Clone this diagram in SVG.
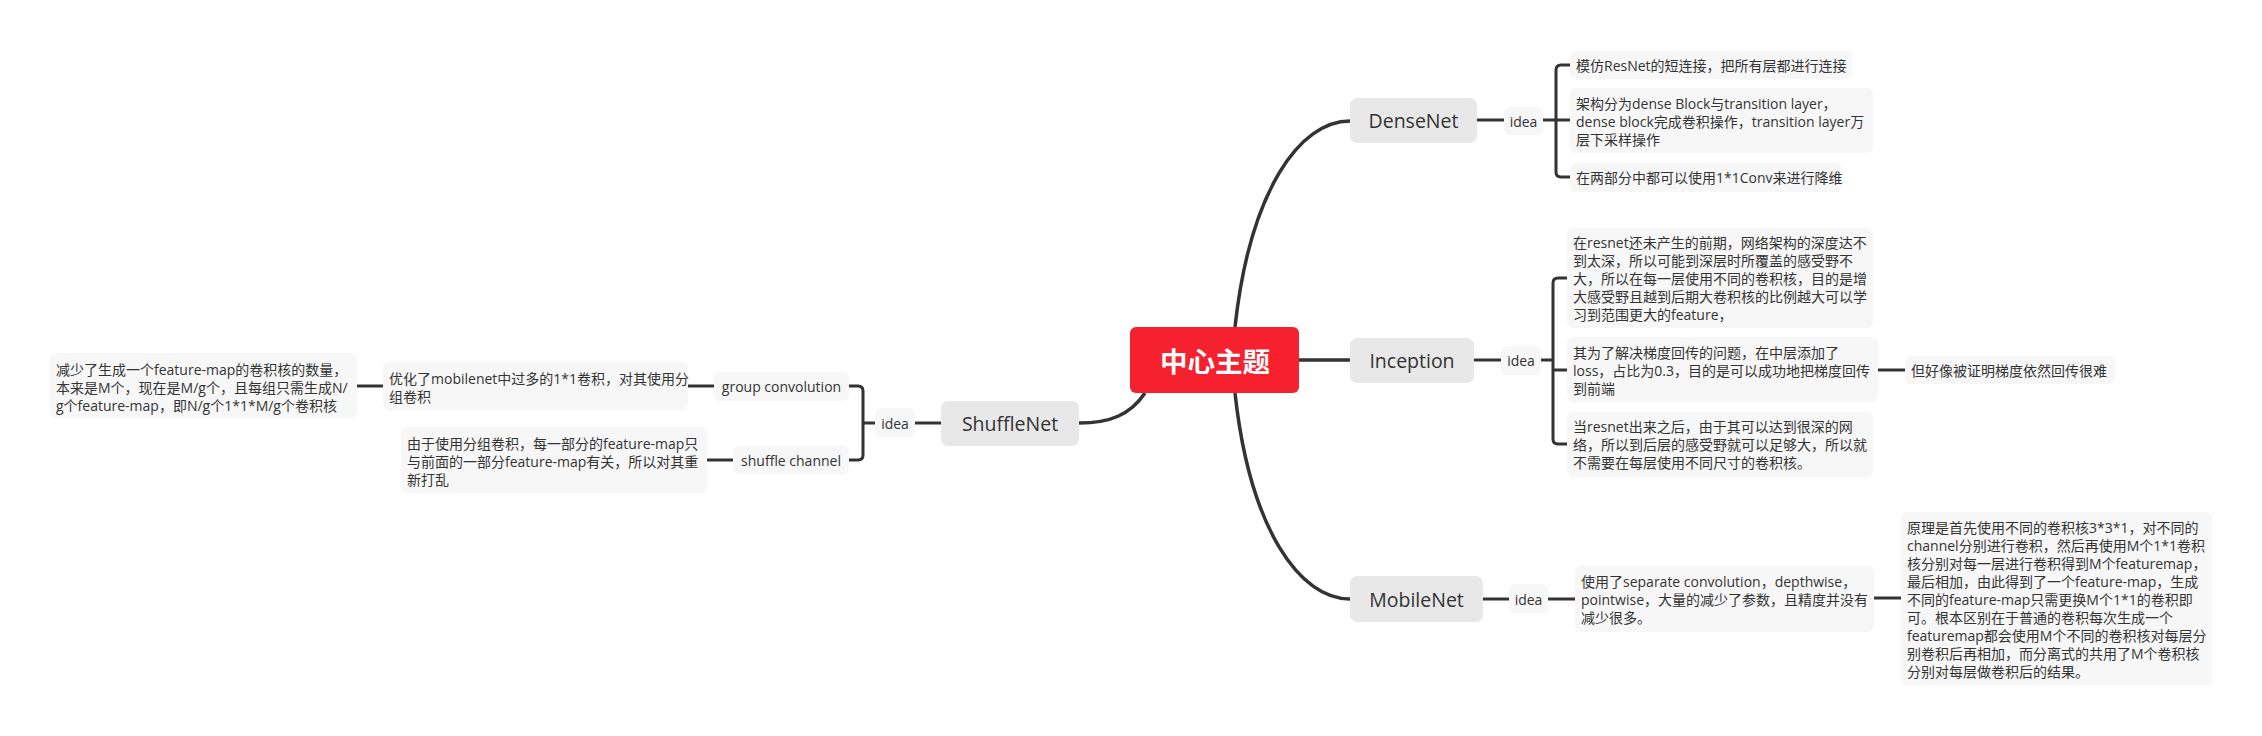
<svg xmlns="http://www.w3.org/2000/svg" width="2262" height="736" viewBox="0 0 2262 736">
<style>
text{font-family:"Open Sans","Noto Sans CJK SC",sans-serif;fill:#333;dominant-baseline:central}
.main rect{fill:#E8E8E8}
.main text{font-size:19.5px;text-anchor:middle}
.sub rect{fill:#F7F7F7}
.sub text{font-size:14px}
.c{text-anchor:middle}
#connectors path{fill:none;stroke:#333;stroke-width:3;stroke-linecap:butt}
#connectors .thick{stroke-width:3.5}
</style>
<rect width="2262" height="736" fill="#fff"/>
<g id="connectors">
<path class="thick" d="M1235 327 C1250 190 1300 121 1350 121"/>
<path class="thick" d="M1299 360 H1350"/>
<path class="thick" d="M1235 393 C1250 530 1300 599 1350 599"/>
<path class="thick" d="M1145 393 C1130 415 1110 423 1079 423"/>
<path d="M1477 120 H1504"/>
<path d="M1543 120 H1570"/>
<path d="M1570 65 H1561 Q1556 65 1556 70 V172 Q1556 177 1561 177 H1570"/>
<path d="M1474 360 H1501"/>
<path d="M1541 360 H1553"/>
<path d="M1567 278 H1558 Q1553 278 1553 283 V439 Q1553 444 1558 444 H1567"/>
<path d="M1553 370 H1567"/>
<path d="M1878 370 H1905"/>
<path d="M1483 599 H1509"/>
<path d="M1548 599 H1575"/>
<path d="M1874 598 H1901"/>
<path d="M941 423 H915"/>
<path d="M875 423 H863"/>
<path d="M849 386 H858 Q863 386 863 391 V455 Q863 460 858 460 H849"/>
<path d="M714 386 H688"/>
<path d="M733 460 H707"/>
<path d="M383 386 H357"/>
</g>
<g id="center">
<rect x="1130" y="327" width="169" height="66" rx="6" fill="#F5212F"/>
<text x="1215" y="360" text-anchor="middle" style="font-size:27.5px;font-weight:bold;fill:#fff;font-family:'Noto Sans CJK SC',sans-serif">中心主题</text>
</g>
<g id="densenet" class="main">
<rect x="1350" y="98" width="127" height="45" rx="7"/>
<text x="1413.5" y="120.5">DenseNet</text>
</g>
<g id="densenet-idea" class="sub">
<rect x="1504" y="107" width="39" height="28" rx="6"/>
<text class="c" x="1523.5" y="121">idea</text>
</g>
<g id="dn-leaf1" class="sub">
<rect x="1570" y="51" width="282" height="28" rx="6"/>
<text x="1576" y="65">模仿ResNet的短连接，把所有层都进行连接</text>
</g>
<g id="dn-leaf2" class="sub">
<rect x="1570" y="88" width="303" height="65" rx="6"/>
<text x="1576" y="103">架构分为dense Block与transition layer，</text>
<text x="1576" y="121">dense block完成卷积操作，transition layer万</text>
<text x="1576" y="139">层下采样操作</text>
</g>
<g id="dn-leaf3" class="sub">
<rect x="1570" y="163" width="272" height="29" rx="6"/>
<text x="1576" y="177">在两部分中都可以使用1*1Conv来进行降维</text>
</g>
<g id="inception" class="main">
<rect x="1350" y="338" width="124" height="45" rx="7"/>
<text x="1412" y="360.5">Inception</text>
</g>
<g id="inception-idea" class="sub">
<rect x="1501" y="346" width="40" height="29" rx="6"/>
<text class="c" x="1521" y="360.5">idea</text>
</g>
<g id="in-leaf1" class="sub">
<rect x="1567" y="228" width="306" height="100" rx="6"/>
<text x="1573" y="242">在resnet还未产生的前期，网络架构的深度达不</text>
<text x="1573" y="260">到太深，所以可能到深层时所覆盖的感受野不</text>
<text x="1573" y="278">大，所以在每一层使用不同的卷积核，目的是增</text>
<text x="1573" y="296">大感受野且越到后期大卷积核的比例越大可以学</text>
<text x="1573" y="314">习到范围更大的feature，</text>
</g>
<g id="in-leaf2" class="sub">
<rect x="1567" y="337" width="311" height="65" rx="6"/>
<text x="1573" y="352">其为了解决梯度回传的问题，在中层添加了</text>
<text x="1573" y="370">loss，占比为0.3，目的是可以成功地把梯度回传</text>
<text x="1573" y="388">到前端</text>
</g>
<g id="in-leaf3" class="sub">
<rect x="1567" y="412" width="306" height="65" rx="6"/>
<text x="1573" y="426">当resnet出来之后，由于其可以达到很深的网</text>
<text x="1573" y="444">络，所以到后层的感受野就可以足够大，所以就</text>
<text x="1573" y="462">不需要在每层使用不同尺寸的卷积核。</text>
</g>
<g id="in-leaf2-child" class="sub">
<rect x="1905" y="356" width="210" height="28" rx="6"/>
<text x="1911" y="370">但好像被证明梯度依然回传很难</text>
</g>
<g id="mobilenet" class="main">
<rect x="1350" y="576" width="133" height="46" rx="7"/>
<text x="1416.5" y="599">MobileNet</text>
</g>
<g id="mobilenet-idea" class="sub">
<rect x="1509" y="584" width="39" height="29" rx="6"/>
<text class="c" x="1528.5" y="599">idea</text>
</g>
<g id="mb-leaf" class="sub">
<rect x="1575" y="566" width="299" height="66" rx="6"/>
<text x="1581" y="581">使用了separate convolution，depthwise，</text>
<text x="1581" y="599">pointwise，大量的减少了参数，且精度并没有</text>
<text x="1581" y="617">减少很多。</text>
</g>
<g id="mb-leaf-child" class="sub">
<rect x="1901" y="512" width="311" height="173" rx="6"/>
<text x="1907" y="527">原理是首先使用不同的卷积核3*3*1，对不同的</text>
<text x="1907" y="545">channel分别进行卷积，然后再使用M个1*1卷积</text>
<text x="1907" y="563">核分别对每一层进行卷积得到M个featuremap，</text>
<text x="1907" y="581">最后相加，由此得到了一个feature-map，生成</text>
<text x="1907" y="599">不同的feature-map只需更换M个1*1的卷积即</text>
<text x="1907" y="617">可。根本区别在于普通的卷积每次生成一个</text>
<text x="1907" y="635">featuremap都会使用M个不同的卷积核对每层分</text>
<text x="1907" y="653">别卷积后再相加，而分离式的共用了M个卷积核</text>
<text x="1907" y="671">分别对每层做卷积后的结果。</text>
</g>
<g id="shufflenet" class="main">
<rect x="941" y="401" width="138" height="45" rx="7"/>
<text x="1010" y="423.5">ShuffleNet</text>
</g>
<g id="shufflenet-idea" class="sub">
<rect x="875" y="408" width="40" height="29" rx="6"/>
<text class="c" x="895" y="423">idea</text>
</g>
<g id="group-conv" class="sub">
<rect x="714" y="372" width="135" height="29" rx="6"/>
<text class="c" x="781.5" y="386">group convolution</text>
</g>
<g id="shuffle-channel" class="sub">
<rect x="733" y="446" width="116" height="28" rx="6"/>
<text class="c" x="791" y="460">shuffle channel</text>
</g>
<g id="gc-leaf" class="sub">
<rect x="383" y="362" width="305" height="48" rx="6"/>
<text x="389" y="378">优化了mobilenet中过多的1*1卷积，对其使用分</text>
<text x="389" y="396">组卷积</text>
</g>
<g id="gc-leaf-child" class="sub">
<rect x="50" y="353" width="307" height="65" rx="6"/>
<text x="56" y="369">减少了生成一个feature-map的卷积核的数量，</text>
<text x="56" y="387">本来是M个，现在是M/g个，且每组只需生成N/</text>
<text x="56" y="405">g个feature-map，即N/g个1*1*M/g个卷积核</text>
</g>
<g id="sc-leaf" class="sub">
<rect x="401" y="427" width="306" height="66" rx="6"/>
<text x="407" y="443">由于使用分组卷积，每一部分的feature-map只</text>
<text x="407" y="461">与前面的一部分feature-map有关，所以对其重</text>
<text x="407" y="479">新打乱</text>
</g>
</svg>
